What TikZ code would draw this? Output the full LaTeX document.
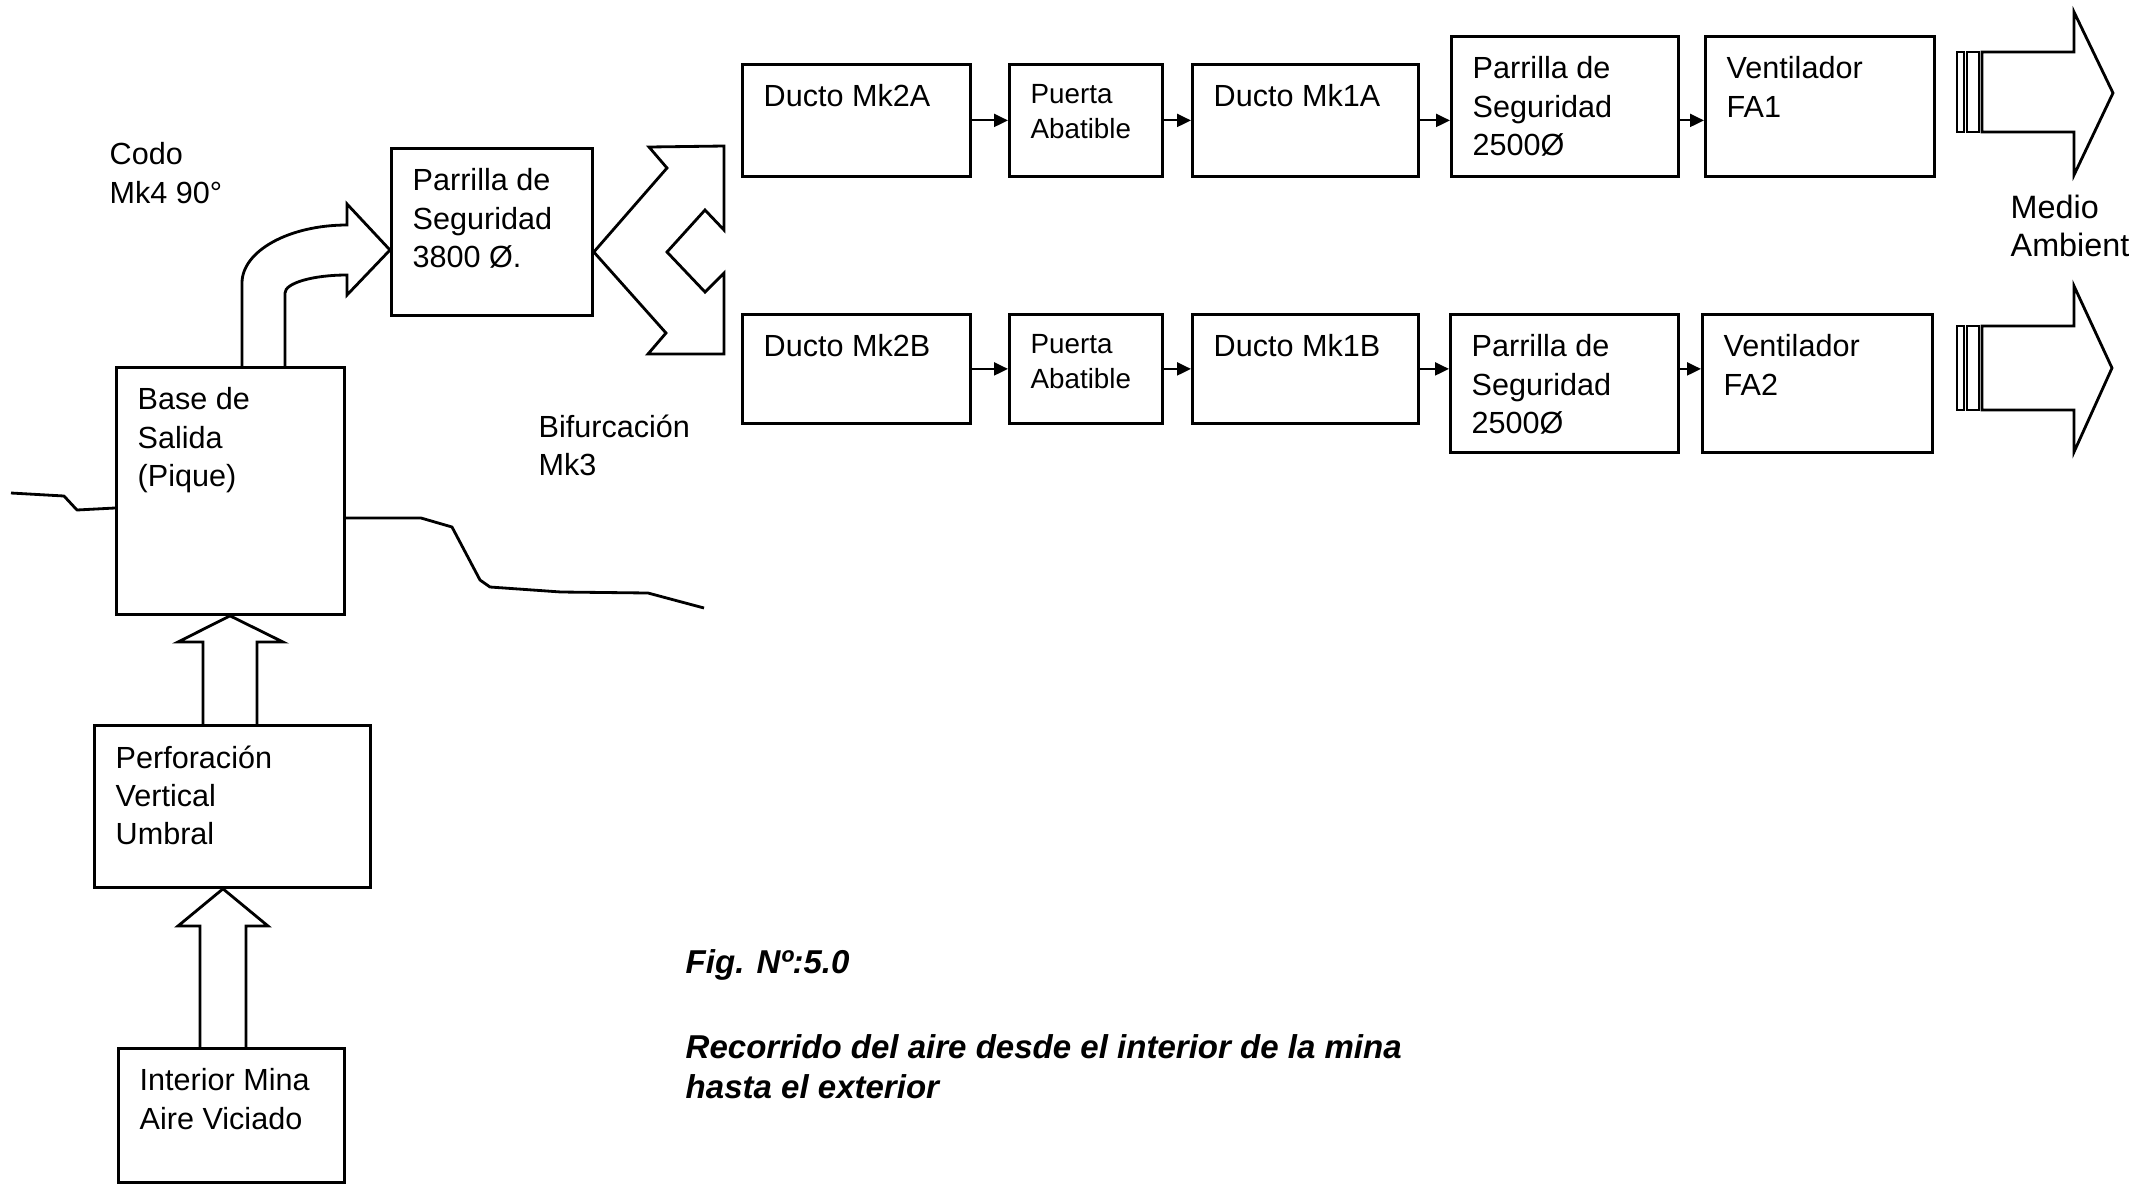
\documentclass[tikz,border=0pt]{standalone}
\usepackage{fontspec}
\setmainfont{Liberation Sans}
\usetikzlibrary{arrows.meta,positioning}
\tikzset{
  blk/.style={draw, rectangle, line width=0.8pt, inner sep=0pt, anchor=north west},
  btxt/.style={anchor=north west, align=left, inner sep=0pt, xshift=2.2mm, yshift=-2.1mm, font=\fontsize{8.7}{10.9}\selectfont},
  stxt/.style={btxt, font=\fontsize{7.9}{9.9}\selectfont},
  lbl/.style={anchor=north west, align=left, inner sep=0pt, font=\fontsize{8.7}{10.9}\selectfont},
  link/.style={-{Triangle[length=1.4mm, width=1.3mm]}, line width=0.6pt},
  fat/.style={draw, line width=0.8pt, line join=miter},
  ground/.style={draw, line width=0.8pt, line join=round},
  fcap/.style={anchor=north west, align=left, inner sep=0pt, font=\fontsize{9.4}{11.2}\selectfont\bfseries\itshape}
}

\begin{document}
\begin{tikzpicture}
\useasboundingbox (0,0) rectangle (21.41,-11.83);
% boxes, left column
\node[blk, minimum width=2.28cm, minimum height=2.47cm] (base) at (1.15,-3.66) {};
\node[blk, minimum width=2.76cm, minimum height=1.62cm] (perf) at (0.93,-7.24) {};
\node[blk, minimum width=2.26cm, minimum height=1.34cm] (inmina) at (1.17,-10.47) {};
\node[blk, minimum width=2.01cm, minimum height=1.67cm] (pr0) at (3.90,-1.47) {};
% branch A
\node[blk, minimum width=2.28cm, minimum height=1.12cm] (d2a) at (7.41,-0.63) {};
\node[blk, minimum width=1.53cm, minimum height=1.12cm] (pa) at (10.08,-0.63) {};
\node[blk, minimum width=2.26cm, minimum height=1.12cm] (d1a) at (11.91,-0.63) {};
\node[blk, minimum width=2.27cm, minimum height=1.40cm] (pr1) at (14.50,-0.35) {};
\node[blk, minimum width=2.29cm, minimum height=1.40cm] (fa1) at (17.04,-0.35) {};
% branch B
\node[blk, minimum width=2.28cm, minimum height=1.09cm] (d2b) at (7.41,-3.13) {};
\node[blk, minimum width=1.53cm, minimum height=1.09cm] (pb) at (10.08,-3.13) {};
\node[blk, minimum width=2.26cm, minimum height=1.09cm] (d1b) at (11.91,-3.13) {};
\node[blk, minimum width=2.28cm, minimum height=1.38cm] (pr2) at (14.49,-3.13) {};
\node[blk, minimum width=2.30cm, minimum height=1.38cm] (fa2) at (17.01,-3.13) {};

% box texts
\node[btxt] (tbase) at (base.north west) {Base de\\Salida\\(Pique)};
\node[btxt] (tperf) at (perf.north west) {Perforación\\Vertical\\Umbral};
\node[btxt] (tinmina) at (inmina.north west) {Interior Mina\\Aire Viciado};
\node[btxt] (tpr0) at (pr0.north west) {Parrilla de\\Seguridad\\3800 Ø.};
\node[btxt] (td2a) at (d2a.north west) {Ducto Mk2A};
\node[stxt] (tpa) at (pa.north west) {Puerta\\Abatible};
\node[btxt] (td1a) at (d1a.north west) {Ducto Mk1A};
\node[btxt] (tpr1) at (pr1.north west) {Parrilla de\\Seguridad\\2500Ø};
\node[btxt] (tfa1) at (fa1.north west) {Ventilador\\FA1};
\node[btxt] (td2b) at (d2b.north west) {Ducto Mk2B};
\node[stxt] (tpb) at (pb.north west) {Puerta\\Abatible};
\node[btxt] (td1b) at (d1b.north west) {Ducto Mk1B};
\node[btxt] (tpr2) at (pr2.north west) {Parrilla de\\Seguridad\\2500Ø};
\node[btxt] (tfa2) at (fa2.north west) {Ventilador\\FA2};

% free labels
\node[lbl] (codo) at (1.09,-1.42) {Codo\\Mk4 90°};
\node[lbl] (bif) at (5.38,-4.14) {Bifurcación\\Mk3};
\node[lbl, font=\fontsize{9.2}{10.9}\selectfont] (medio) at (20.10,-1.94) {Medio\\Ambient};

% small arrows
\draw[link] (d2a.east) -- (pa.west); \draw[link] (pa.east) -- (d1a.west); \draw[link] (d1a.east) -- (d1a.east -| pr1.west); \draw[link] (d1a.east -| pr1.east) -- (d1a.east -| fa1.west);
\draw[link] (d2b.east) -- (pb.west); \draw[link] (pb.east) -- (d1b.west); \draw[link] (d1b.east) -- (d1b.east -| pr2.west); \draw[link] (d1b.east -| pr2.east) -- (d1b.east -| fa2.west);

% fat arrows up the shaft
\draw[fat] (2.00,0 |- inmina.north) -- (2.00,-9.26) -- (1.78,-9.26) -- (2.23,0 |- perf.south) -- (2.68,-9.26) -- (2.46,-9.26) -- (2.46,0 |- inmina.north);
\draw[fat] (2.03,0 |- perf.north) -- (2.03,-6.42) -- (1.78,-6.42) -- (2.30,0 |- base.south) -- (2.83,-6.42) -- (2.57,-6.42) -- (2.57,0 |- perf.north);
% elbow Mk4
\draw[fat] (2.42,0 |- base.north) -- (2.42,-2.83) .. controls (2.42,-2.51) and (2.89,-2.25) .. (3.47,-2.25) -- (3.47,-2.04) -- (pr0.west |- 0,-2.50) -- (3.47,-2.95) -- (3.47,-2.75) .. controls (3.13,-2.75) and (2.85,-2.83) .. (2.85,-2.93) -- (2.85,0 |- base.north);
% bifurcation Mk3
\draw[fat] (pr0.east |- 0,-2.52) -- (6.67,-1.68) -- (6.49,-1.47) -- (7.24,-1.46) -- (7.24,-2.30) -- (7.05,-2.10) -- (6.67,-2.52) -- (7.05,-2.92) -- (7.24,-2.73) -- (7.24,-3.54) -- (6.48,-3.54) -- (6.66,-3.33) -- cycle;

% outlets
\draw[fat, line width=0.7pt] (19.57,-0.52) rectangle (19.64,-1.32); \draw[fat, line width=0.7pt] (19.67,-0.52) rectangle (19.79,-1.32);
\draw[fat] (19.82,-0.52) -- (20.74,-0.52) -- (20.74,-0.12) -- (21.13,-0.93) -- (20.74,-1.75) -- (20.74,-1.32) -- (19.82,-1.32) -- cycle;
\draw[fat, line width=0.7pt] (19.57,-3.26) rectangle (19.64,-4.10); \draw[fat, line width=0.7pt] (19.67,-3.26) rectangle (19.79,-4.10);
\draw[fat] (19.82,-3.26) -- (20.74,-3.26) -- (20.74,-2.86) -- (21.12,-3.68) -- (20.74,-4.52) -- (20.74,-4.10) -- (19.82,-4.10) -- cycle;

% ground surface
\draw[ground] (0.11,-4.93) -- (0.64,-4.96) -- (0.77,-5.10) -- (base.west |- 0,-5.08);
\draw[ground] (base.east |- 0,-5.18) -- (4.21,-5.18) -- (4.52,-5.27) -- (4.80,-5.80) -- (4.90,-5.87) -- (5.61,-5.92) -- (6.48,-5.93) -- (7.04,-6.08);

% caption
\node[fcap, anchor=base west] (fig) at (6.85,-9.73) {Fig. Nº:5.0};
\node[fcap] (rec) at (6.85,-10.34) {Recorrido del aire desde el interior de la mina\\hasta el exterior};
\end{tikzpicture}
\end{document}
